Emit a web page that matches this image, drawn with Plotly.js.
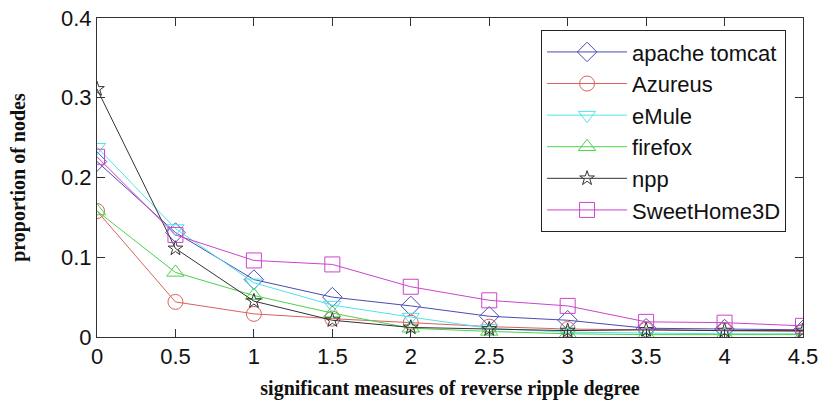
<!DOCTYPE html>
<html>
<head>
<meta charset="utf-8">
<script src="https://cdn.plot.ly/plotly-3.0.1.min.js"></script>
<style>html,body{margin:0;padding:0;background:#fff;}#chart{width:821px;height:403px;}</style>
</head>
<body>
<div id="chart"></div>
<script>
const xValues = [0, 0.5, 1, 1.5, 2, 2.5, 3, 3.5, 4, 4.5];
const seriesNames = ["apache tomcat", "Azureus", "eMule", "firefox", "npp", "SweetHome3D"];
const apacheTomcat = [0.220, 0.131, 0.072, 0.050, 0.039, 0.026, 0.021, 0.011, 0.010, 0.009];
const azureus      = [0.158, 0.044, 0.029, 0.023, 0.018, 0.013, 0.010, 0.009, 0.008, 0.007];
const eMule        = [0.238, 0.136, 0.068, 0.040, 0.025, 0.011, 0.006, 0.005, 0.004, 0.004];
const firefox      = [0.158, 0.081, 0.052, 0.030, 0.011, 0.007, 0.004, 0.003, 0.003, 0.003];
const npp          = [0.311, 0.111, 0.045, 0.021, 0.012, 0.010, 0.008, 0.009, 0.008, 0.008];
const sweetHome3D  = [0.226, 0.128, 0.096, 0.091, 0.063, 0.046, 0.039, 0.019, 0.018, 0.014];
const yTickVals = [0, 0.1, 0.2, 0.3, 0.4];
const xTickVals = [0, 0.5, 1, 1.5, 2, 2.5, 3, 3.5, 4, 4.5];

const seriesValues = [apacheTomcat, azureus, eMule, firefox, npp, sweetHome3D];
const colors = ["#4b4bb4", "#d9625e", "#4fe3ea", "#4cd24c", "#333333", "#cc44cc"];
const symbols = ["diamond-open", "circle-open", "triangle-down-open", "triangle-up-open", "star-open", "square-open"];
const sizes = [15, 15, 15, 15, 11, 15];

const traces = seriesNames.map((name, i) => ({
  type: "scatter",
  mode: "lines+markers",
  name: name,
  x: xValues,
  y: seriesValues[i],
  line: {color: colors[i], width: 1},
  marker: {symbol: symbols[i], size: sizes[i], color: colors[i], line: {width: 1, color: colors[i]}}
}));

const titleFont = {family: "Liberation Serif, Times New Roman, serif", size: 20, weight: "bold", color: "#111"};

const layout = {
  width: 821,
  height: 403,
  margin: {l: 97, r: 18, t: 18, b: 66},
  paper_bgcolor: "#ffffff",
  plot_bgcolor: "#ffffff",
  font: {family: "Liberation Sans, Arial, sans-serif", size: 22, color: "#111"},
  xaxis: {
    range: [0, 4.5],
    tickvals: xTickVals,
    ticktext: xTickVals.map(String),
    showgrid: false,
    zeroline: false,
    showline: true,
    linecolor: "#333",
    linewidth: 1,
    mirror: "ticks",
    ticks: "inside",
    ticklen: 8,
    tickcolor: "#333",
    tickfont: {size: 22, family: "Liberation Sans, Arial, sans-serif"},
    title: {text: "significant measures of reverse ripple degree", font: titleFont, standoff: 12}
  },
  yaxis: {
    range: [0, 0.4],
    tickvals: yTickVals,
    ticktext: yTickVals.map(String),
    showgrid: false,
    zeroline: false,
    showline: true,
    linecolor: "#333",
    linewidth: 1,
    mirror: "ticks",
    ticks: "inside",
    ticklen: 8,
    tickcolor: "#333",
    tickfont: {size: 22, family: "Liberation Sans, Arial, sans-serif"},
    title: {text: "proportion of nodes", font: titleFont, standoff: 30}
  },
  legend: {
    x: 0.629, y: 0.962, xanchor: "left", yanchor: "top",
    bgcolor: "#ffffff",
    bordercolor: "#222",
    borderwidth: 1,
    font: {size: 22, family: "Liberation Sans, Arial, sans-serif", color: "#111"},
    itemwidth: 80,
    tracegroupgap: 0
  },
  showlegend: true
};

Plotly.newPlot("chart", traces, layout, {displayModeBar: false, staticPlot: true});
</script>
</body>
</html>
